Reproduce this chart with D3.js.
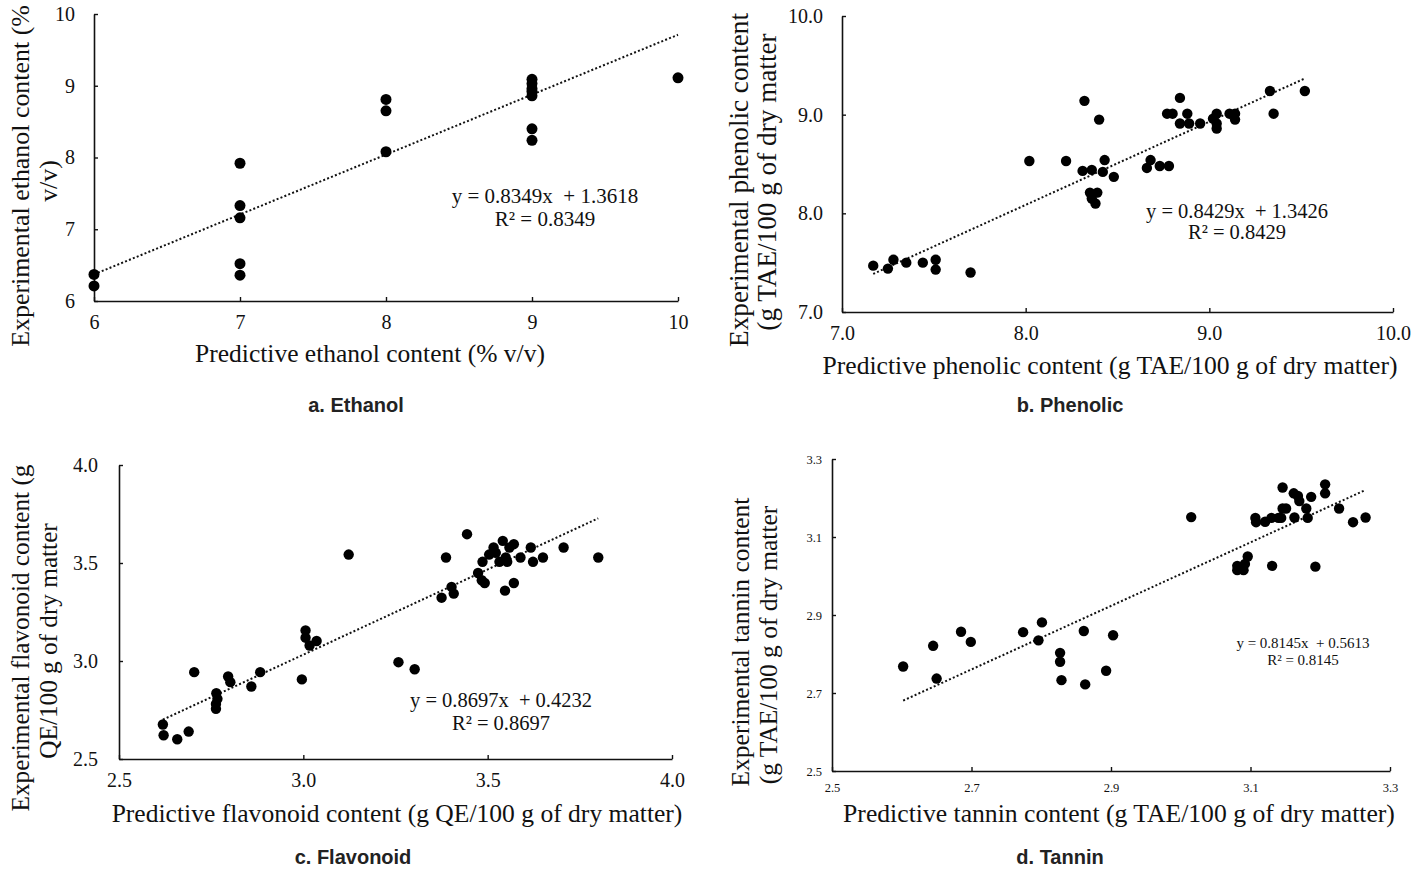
<!DOCTYPE html>
<html>
<head>
<meta charset="utf-8">
<script src="https://cdn.jsdelivr.net/npm/d3@7"></script>
<style>
  html, body { margin: 0; padding: 0; background: #fff; }
  svg { display: block; }
  .serif { font-family: "Liberation Serif", "Times New Roman", serif; fill: #111; }
  .title { font-family: "Liberation Sans", Arial, sans-serif; font-weight: bold; fill: #222; }
</style>
</head>
<body>
<svg id="chart" width="1428" height="872"></svg>
<script>
// ---- Ethanol (% v/v) ----
const ethanolPred = [6, 6, 7, 7, 7, 7, 7, 8, 8, 8, 9, 9, 9, 9, 9, 9, 9, 10];
const ethanolExp  = [6.37, 6.21, 7.92, 7.33, 7.16, 6.52, 6.36, 8.81, 8.65, 8.08,
                     9.09, 9.03, 8.96, 8.92, 8.86, 8.40, 8.24, 9.11];
const ethanolTicks = [6, 7, 8, 9, 10];
const ethanolFit = { slope: 0.8349, intercept: 1.3618, r2: 0.8349 };

// ---- Phenolic (g TAE/100 g of dry matter) ----
const phenolicPred = [7.17, 7.25, 7.28, 7.35, 7.44, 7.51, 7.51, 7.70, 8.02, 8.22,
                      8.32, 8.40, 8.31, 8.36, 8.43, 8.42, 8.48, 8.35, 8.39, 8.36,
                      8.38, 8.66, 8.68, 8.73, 8.78, 8.77, 8.80, 8.84, 8.84, 8.88,
                      8.89, 8.95, 9.02, 9.04, 9.04, 9.04, 9.11, 9.14, 9.14, 9.33,
                      9.35, 9.52];
const phenolicExp  = [7.47, 7.44, 7.53, 7.50, 7.50, 7.53, 7.43, 7.40, 8.53, 8.53,
                      9.14, 8.95, 8.43, 8.44, 8.54, 8.42, 8.37, 8.21, 8.21, 8.15,
                      8.10, 8.46, 8.54, 8.48, 8.48, 9.01, 9.01, 9.17, 8.91, 9.01,
                      8.91, 8.91, 8.96, 9.01, 8.86, 8.91, 9.01, 9.01, 8.95, 9.24,
                      9.01, 9.24];
const phenolicTicks = [7.0, 8.0, 9.0, 10.0];
const phenolicFit = { slope: 0.8429, intercept: 1.3426, r2: 0.8429 };

// ---- Flavonoid (g QE/100 g of dry matter) ----
const flavonoidPred = [2.619, 2.621, 2.658, 2.689, 2.704, 2.764, 2.767, 2.763, 2.763, 2.796,
                       2.802, 2.859, 2.883, 2.996, 3.006, 3.006, 3.017, 3.036, 3.123, 3.258,
                       3.302, 3.375, 3.387, 3.402, 3.408, 3.444, 3.474, 3.484, 3.492, 3.486,
                       3.504, 3.516, 3.522, 3.532, 3.541, 3.549, 3.547, 3.553, 3.559, 3.571,
                       3.571, 3.589, 3.617, 3.623, 3.650, 3.706, 3.800];
const flavonoidExp  = [2.676, 2.621, 2.601, 2.640, 2.943, 2.836, 2.807, 2.781, 2.756, 2.921,
                       2.892, 2.870, 2.943, 2.906, 3.156, 3.119, 3.079, 3.102, 3.543, 2.994,
                       2.958, 3.323, 3.528, 3.378, 3.344, 3.647, 3.449, 3.412, 3.398, 3.506,
                       3.543, 3.579, 3.552, 3.506, 3.613, 3.528, 3.359, 3.506, 3.579, 3.596,
                       3.398, 3.528, 3.579, 3.506, 3.528, 3.579, 3.528];
const flavonoidTicks = [2.5, 3.0, 3.5, 4.0];
const flavonoidFit = { slope: 0.8697, intercept: 0.4232, r2: 0.8697 };

// ---- Tannin (g TAE/100 g of dry matter) ----
const tanninPred = [2.602, 2.645, 2.650, 2.685, 2.699, 2.774, 2.796, 2.801, 2.827, 2.827,
                    2.829, 2.861, 2.863, 2.893, 2.903, 3.015, 3.081, 3.081, 3.090, 3.092,
                    3.096, 3.107, 3.108, 3.121, 3.130, 3.131, 3.140, 3.146, 3.146, 3.151,
                    3.144, 3.162, 3.163, 3.168, 3.170, 3.180, 3.182, 3.187, 3.193, 3.207,
                    3.207, 3.227, 3.247, 3.265];
const tanninExp  = [2.768, 2.821, 2.737, 2.857, 2.831, 2.856, 2.835, 2.881, 2.803, 2.780,
                    2.733, 2.859, 2.722, 2.757, 2.848, 3.151, 3.026, 3.015, 3.015, 3.031,
                    3.050, 3.149, 3.138, 3.139, 3.149, 3.026, 3.149, 3.227, 3.173, 3.173,
                    3.149, 3.212, 3.150, 3.205, 3.192, 3.173, 3.149, 3.203, 3.024, 3.235,
                    3.212, 3.173, 3.138, 3.150];
const tanninTicks = [2.5, 2.7, 2.9, 3.1, 3.3];
const tanninFit = { slope: 0.8145, intercept: 0.5613, r2: 0.8145 };

// Panel layout and text
const panels = [
  {
    pred: ethanolPred, exp: ethanolExp, ticks: ethanolTicks, fit: ethanolFit, fmt: d3.format("d"),
    xr: [94, 678], yr: [301, 14], r: 5.5, tickFont: 20, tickPadX: 14, tickPadY: 19,
    eq: { x: 545, y: 196, size: 21, gap: 23 },
    xTitle: { text: "Predictive ethanol content (% v/v)", x: 370, y: 353, span: 350 },
    yTitle: [
      { text: "Experimental ethanol content (%", x: 20, y: 176, span: 342 },
      { text: "v/v)", x: 48, y: 181 }
    ],
    title: { text: "a. Ethanol", x: 356, y: 405 }
  },
  {
    pred: phenolicPred, exp: phenolicExp, ticks: phenolicTicks, fit: phenolicFit, fmt: d3.format(".1f"),
    xr: [842, 1393], yr: [312, 16], r: 5.2, tickFont: 20, tickPadX: 14, tickPadY: 19,
    eq: { x: 1237, y: 211, size: 20.5, gap: 21 },
    xTitle: { text: "Predictive phenolic content (g TAE/100 g of dry matter)", x: 1110, y: 365, span: 575 },
    yTitle: [
      { text: "Experimental phenolic content", x: 738, y: 180, span: 334 },
      { text: "(g TAE/100 g of dry matter", x: 766, y: 182, span: 303 }
    ],
    title: { text: "b. Phenolic", x: 1070, y: 405 }
  },
  {
    pred: flavonoidPred, exp: flavonoidExp, ticks: flavonoidTicks, fit: flavonoidFit, fmt: d3.format(".1f"),
    xr: [119, 672], yr: [759, 465], r: 5.2, tickFont: 20, tickPadX: 14, tickPadY: 21,
    eq: { x: 501, y: 700, size: 20.5, gap: 23 },
    xTitle: { text: "Predictive flavonoid content (g QE/100 g of dry matter)", x: 397, y: 813, span: 571 },
    yTitle: [
      { text: "Experimental flavonoid content (g", x: 20, y: 638, span: 347 },
      { text: "QE/100 g of dry matter", x: 48, y: 641 }
    ],
    title: { text: "c. Flavonoid", x: 353, y: 857 }
  },
  {
    pred: tanninPred, exp: tanninExp, ticks: tanninTicks, fit: tanninFit, fmt: d3.format(".1f"),
    xr: [832, 1390], yr: [771, 459], r: 5.2, tickFont: 12.5, tickPadX: 12, tickPadY: 10,
    eq: { x: 1303, y: 643, size: 15, gap: 17 },
    xTitle: { text: "Predictive tannin content (g TAE/100 g of dry matter)", x: 1119, y: 813, span: 552 },
    yTitle: [
      { text: "Experimental tannin content", x: 740, y: 642, span: 289 },
      { text: "(g TAE/100 g of dry matter", x: 768, y: 645, span: 284 }
    ],
    title: { text: "d. Tannin", x: 1060, y: 857 }
  }
];

const svg = d3.select("#chart");
const BASE_SIZE = 22;

// Pick a font size so that a line runs the requested length
function fitSize(sel, span) {
  const natural = sel.node().getComputedTextLength();
  const size = BASE_SIZE * span / natural;
  sel.style("font-size", size + "px");
  return size;
}

panels.forEach(p => {
  const [lo, hi] = d3.extent(p.ticks);
  const x = d3.scaleLinear().domain([lo, hi]).range(p.xr);
  const y = d3.scaleLinear().domain([lo, hi]).range(p.yr);
  const g = svg.append("g");

  // axes with short inward ticks
  const xAxis = d3.axisBottom(x).tickValues(p.ticks).tickFormat(p.fmt)
    .tickSizeInner(-4).tickSizeOuter(0).tickPadding(p.tickPadX);
  const yAxis = d3.axisLeft(y).tickValues(p.ticks).tickFormat(p.fmt)
    .tickSizeInner(-4).tickSizeOuter(0).tickPadding(p.tickPadY);

  const gx = g.append("g").attr("transform", `translate(0,${p.yr[0]})`).call(xAxis);
  const gy = g.append("g").attr("transform", `translate(${p.xr[0]},0)`).call(yAxis);
  [gx, gy].forEach(a => {
    a.select(".domain").attr("stroke", "#111").attr("stroke-width", 1.6);
    a.selectAll(".tick line").attr("stroke", "#111").attr("stroke-width", 1.4);
    a.selectAll(".tick text")
      .attr("class", "serif")
      .style("font-family", '"Liberation Serif", "Times New Roman", serif')
      .style("font-size", p.tickFont + "px")
      .attr("fill", "#222");
  });

  // fitted trend line over the range of predicted values
  const [fx0, fx1] = d3.extent(p.pred);
  const fitLine = [fx0, fx1].map(v => [v, p.fit.slope * v + p.fit.intercept]);
  g.append("path")
    .datum(fitLine)
    .attr("d", d3.line().x(d => x(d[0])).y(d => y(d[1])))
    .attr("fill", "none")
    .attr("stroke", "#111")
    .attr("stroke-width", 2)
    .attr("stroke-dasharray", "2,2.2");

  // observations
  g.append("g").selectAll("circle")
    .data(p.pred.map((v, i) => [v, p.exp[i]]))
    .join("circle")
    .attr("cx", d => x(d[0]))
    .attr("cy", d => y(d[1]))
    .attr("r", p.r)
    .attr("fill", "#000");

  // regression equation
  const eq = g.append("text").attr("class", "serif")
    .attr("text-anchor", "middle")
    .style("font-size", p.eq.size + "px")
    .style("white-space", "pre");
  eq.append("tspan").attr("x", p.eq.x).attr("y", p.eq.y).attr("dy", "0.35em")
    .text(`y = ${p.fit.slope.toFixed(4)}x  + ${p.fit.intercept.toFixed(4)}`);
  eq.append("tspan").attr("x", p.eq.x).attr("y", p.eq.y + p.eq.gap).attr("dy", "0.35em")
    .text(`R² = ${p.fit.r2.toFixed(4)}`);

  // x axis title
  const xt = g.append("text").attr("class", "serif")
    .attr("x", p.xTitle.x).attr("y", p.xTitle.y).attr("dy", "0.35em")
    .attr("text-anchor", "middle")
    .style("font-size", BASE_SIZE + "px")
    .text(p.xTitle.text);
  fitSize(xt, p.xTitle.span);

  // y axis title, two lines
  let ySize = BASE_SIZE;
  p.yTitle.forEach((l, i) => {
    const t = g.append("text").attr("class", "serif")
      .attr("transform", `translate(${l.x},${l.y}) rotate(-90)`)
      .attr("dy", "0.35em")
      .attr("text-anchor", "middle")
      .style("font-size", BASE_SIZE + "px")
      .text(l.text);
    if (i === 0) ySize = fitSize(t, l.span);
    else t.style("font-size", ySize + "px");
  });

  // panel caption
  g.append("text").attr("class", "title")
    .attr("x", p.title.x).attr("y", p.title.y).attr("dy", "0.35em")
    .attr("text-anchor", "middle")
    .style("font-size", "20px")
    .text(p.title.text);
});
</script>
</body>
</html>
